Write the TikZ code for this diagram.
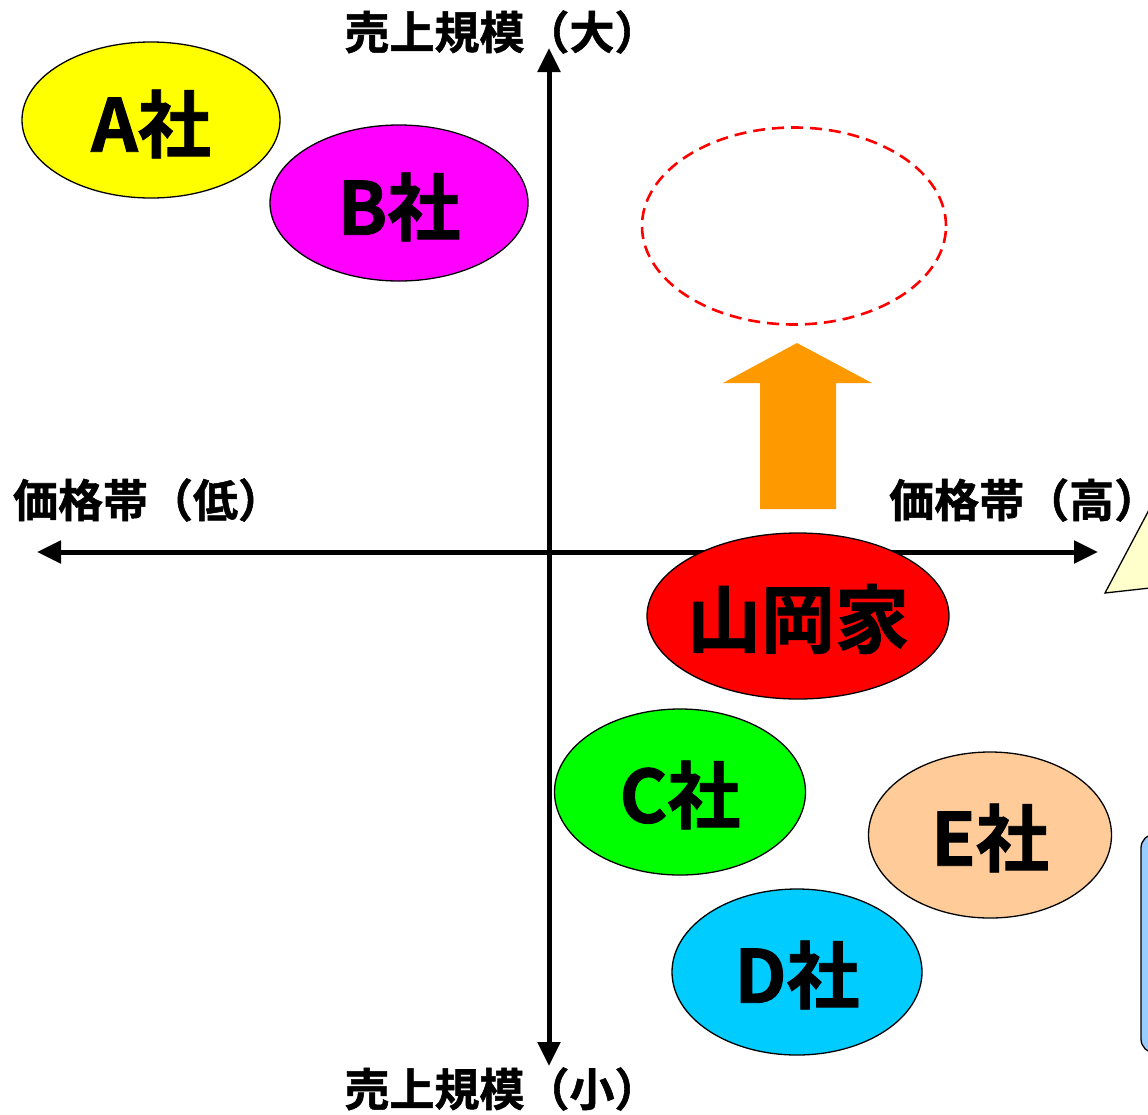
\documentclass[tikz,border=0pt]{standalone}
\usepackage{fontspec}
\newfontfamily\jp[FakeBold=1.2]{Noto Sans CJK JP Bold}
\usetikzlibrary{arrows.meta,shapes.geometric}
\definecolor{cA}{HTML}{FFFF00}
\definecolor{cB}{HTML}{FF00FF}
\definecolor{cC}{HTML}{00FF00}
\definecolor{cD}{HTML}{00CCFF}
\definecolor{cE}{HTML}{FFCC99}
\definecolor{cY}{HTML}{FF0000}
\definecolor{corange}{HTML}{FF9900}
\definecolor{cpale}{HTML}{FFFFCC}
\definecolor{cblue}{HTML}{99CCFF}
\tikzset{
  company/.style={ellipse, draw=black, line width=1.3pt, inner sep=0pt},
  axislabel/.style={font=\jp\fontsize{45}{50}\selectfont, inner sep=0pt},
  comptext/.style={font=\jp\fontsize{73}{78}\selectfont, inner sep=0pt},
  axisline/.style={line width=5pt, {Triangle[length=24pt,width=22pt]}-{Triangle[length=24pt,width=22pt]}},
}
\begin{document}
\begin{tikzpicture}[x=1pt,y=-1pt]
\useasboundingbox (0,0) rectangle (1148,1114);
\clip (0,0) rectangle (1148,1114);
% axes
\coordinate (top) at (549,48);
\coordinate (bot) at (549,1066);
\coordinate (left) at (37,552);
\coordinate (right) at (1098,552);
\draw[axisline] (bot) -- (top);
\draw[axisline] (left) -- (right);
% axis labels
\node[axislabel] (ltop) at (502,32) {売上規模（大）};
\node[axislabel] (lbot) at (502,1089) {売上規模（小）};
\node[axislabel] (llow) at (148,500) {価格帯（低）};
\node[axislabel, anchor=west] (lhigh) at (889,500) {価格帯（高）};
% callout pointer and box at right edge
\path[draw=black, line width=1.3pt, fill=cpale] (1105,593) -- (1150,508) -- (1150,588) -- cycle;
\path[draw=black, line width=1.3pt, fill=cblue, rounded corners=14pt] (1141,834) rectangle (1200,1053);
% companies
\node[company, fill=cA, minimum width=258pt, minimum height=156pt] (A) at (151,120) {};
\node[comptext] at (151,124) {A社};
\node[company, fill=cB, minimum width=258pt, minimum height=156pt] (B) at (399,203) {};
\node[comptext] at (399,207) {B社};
\node[ellipse, draw=red, line width=2.6pt, dash pattern=on 12pt off 7pt, minimum width=304pt, minimum height=197pt, inner sep=0pt] (target) at (794,226) {};
% orange arrow
\fill[corange] (797,343) -- (872,383) -- (836,383) -- (836,509) -- (760,509) -- (760,383) -- (723,383) -- cycle;
\node[company, fill=cY, minimum width=302pt, minimum height=166pt] (Y) at (798,616) {};
\node[comptext, font=\jp\fontsize{74}{78}\selectfont] at (798,619) {山岡家};
\node[company, fill=cC, minimum width=251pt, minimum height=166pt] (C) at (680,792) {};
\node[comptext] at (680,795) {C社};
\node[company, fill=cE, minimum width=243pt, minimum height=166pt] (E) at (990,835) {};
\node[comptext] at (990,838) {E社};
\node[company, fill=cD, minimum width=250pt, minimum height=166pt] (D) at (797,972) {};
\node[comptext] at (797,975) {D社};
\end{tikzpicture}
\end{document}
